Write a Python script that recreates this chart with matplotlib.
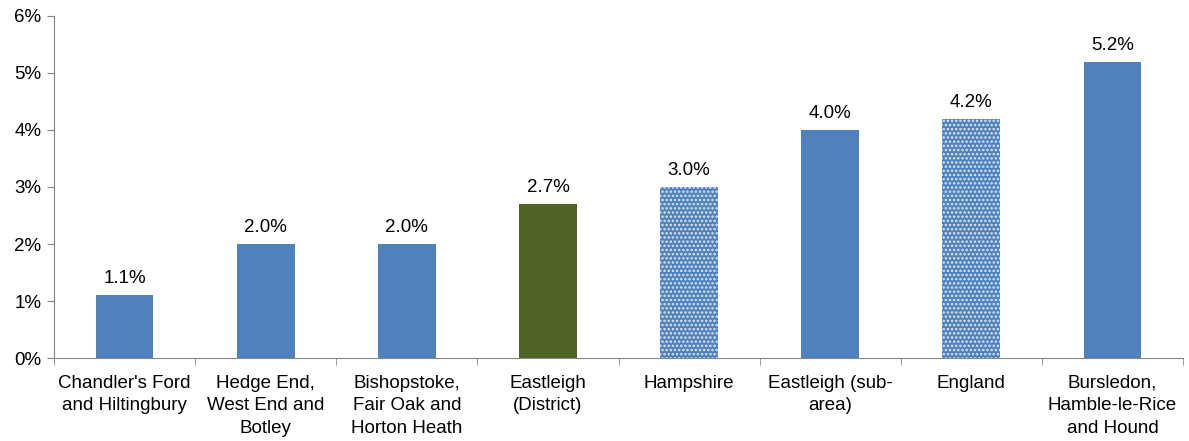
import matplotlib.pyplot as plt
import numpy as np

plt.rcParams['font.family'] = ['Liberation Sans', 'DejaVu Sans']

# dados
areas = ["Chandler's Ford\nand Hiltingbury", "Hedge End,\nWest End and\nBotley",
         "Bishopstoke,\nFair Oak and\nHorton Heath", "Eastleigh\n(District)", "Hampshire",
         "Eastleigh (sub-\narea)", "England", "Bursledon,\nHamble-le-Rice\nand Hound"]
valores = [1.1, 2.0, 2.0, 2.7, 3.0, 4.0, 4.2, 5.2]
rotulos = ['1.1%', '2.0%', '2.0%', '2.7%', '3.0%', '4.0%', '4.2%', '5.2%']
tipo = ['area', 'area', 'area', 'district', 'ref', 'area', 'ref', 'area']

fig = plt.figure(figsize=(11.89, 4.41), dpi=100)
ax = fig.add_axes([0.0454, 0.188, 0.9496, 0.776])

x = np.arange(len(valores))
plt.rcParams['hatch.linewidth'] = 1.2
for i, v in enumerate(valores):
    if tipo[i] == 'district':
        ax.bar(x[i], v / 100, width=0.41, color='#4F6228')
    elif tipo[i] == 'ref':
        ax.bar(x[i], v / 100, width=0.41, facecolor='#4F81BD', edgecolor='#DCE6F2',
               hatch='....', linewidth=0)
    else:
        ax.bar(x[i], v / 100, width=0.41, color='#4F81BD')
    ax.text(x[i], v / 100 + 0.0014, rotulos[i], ha='center', va='bottom', fontsize=13.5)

ax.set_xlim(-0.5, len(valores) - 0.5)
ax.set_ylim(0, 0.06)
ax.set_yticks(np.arange(0, 0.061, 0.01))
ax.set_yticklabels(['%d%%' % i for i in range(7)], fontsize=13.5)
ax.set_xticks(x)
ax.set_xticklabels(areas, fontsize=13.5, linespacing=1.42)
ax.set_xticks(np.arange(-0.5, len(valores), 1), minor=True)
ax.tick_params(axis='x', which='major', length=0, pad=12)
ax.tick_params(axis='x', which='minor', length=5, color='#868686')
ax.tick_params(axis='y', length=5, color='#868686', pad=4)

for s in ['top', 'right']:
    ax.spines[s].set_visible(False)
ax.spines['left'].set_color('#868686')
ax.spines['bottom'].set_color('#868686')

fig.savefig('out.png', dpi=100)
